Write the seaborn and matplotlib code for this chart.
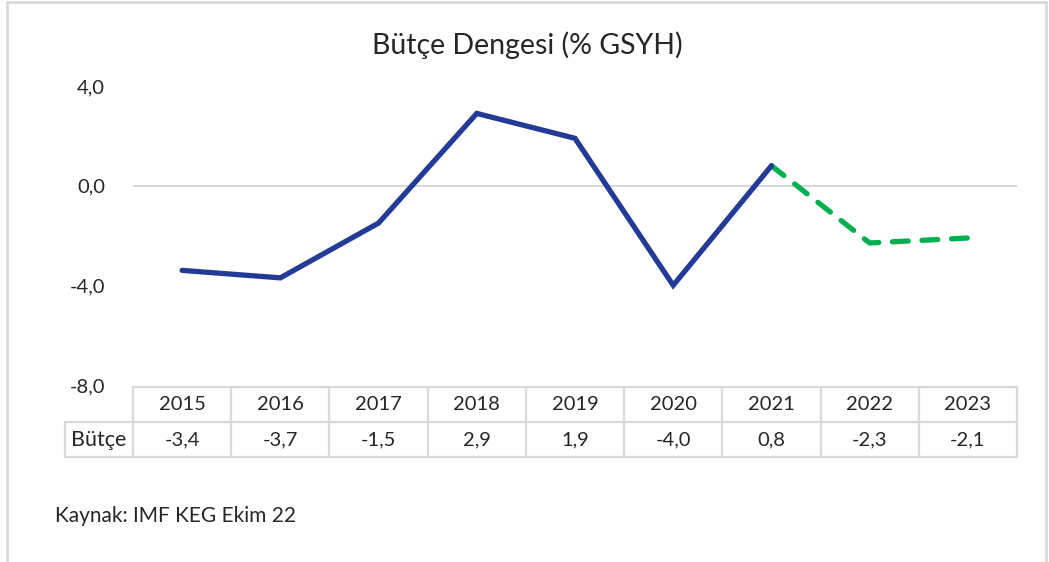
import matplotlib
matplotlib.use("Agg")
import matplotlib.pyplot as plt
import seaborn as sns
import pandas as pd
from matplotlib.lines import Line2D

years = ["2015", "2016", "2017", "2018", "2019", "2020", "2021", "2022", "2023"]
values = [-3.4, -3.7, -1.5, 2.9, 1.9, -4.0, 0.8, -2.3, -2.1]
value_labels = ["-3,4", "-3,7", "-1,5", "2,9", "1,9", "-4,0", "0,8", "-2,3", "-2,1"]
row_label = "Bütçe"
title = "Bütçe Dengesi (% GSYH)"
source = "Kaynak: IMF KEG Ekim 22"
yticks = [4, 0, -4, -8]
ytick_labels = ["4,0", "0,0", "-4,0", "-8,0"]
n_actual = 7  # 2015-2021 actual, 2021-2023 projection

sns.set_theme(style="white")
plt.rcParams['font.family'] = ['Lato', 'DejaVu Sans']

W, H = 1049, 562
fig = plt.figure(figsize=(W / 100, H / 100), dpi=100)
fig.patch.set_facecolor("white")

def fx(px):
    return px / W

def fy(py):
    return 1 - py / H

# main axes
ax_l, ax_r, ax_t, ax_b = 133, 1017, 86, 385
ax = fig.add_axes([fx(ax_l), fy(ax_b), fx(ax_r - ax_l), (ax_b - ax_t) / H])

df = pd.DataFrame({"x": list(range(len(years))), "v": values})
solid = df.iloc[:n_actual]
dashed = df.iloc[n_actual - 1:]

ax.axhline(0, color="#D9D9D9", lw=1.5, zorder=1)
sns.lineplot(data=solid, x="x", y="v", ax=ax, color="#233A96", lw=3.8,
             solid_capstyle="round", solid_joinstyle="miter", zorder=3)
sns.lineplot(data=dashed, x="x", y="v", ax=ax, color="#00B050", lw=3.8,
             zorder=2)
ax.lines[-1].set_dashes([3.0, 2.6])
ax.lines[-1].set_dash_capstyle("round")

ax.set_xlim(-0.5, len(years) - 0.5)
ax.set_ylim(-8, 4)
ax.set_yticks(yticks)
ax.set_yticklabels(ytick_labels)
ax.set_xticks([])
ax.set_xlabel("")
ax.set_ylabel("")
ax.tick_params(axis="y", length=0, pad=20, labelsize=14.5, labelcolor="#262626")
for s in ax.spines.values():
    s.set_visible(False)

# data table
t_l, t_t, t_b = 65, 387, 457
tax = fig.add_axes([fx(t_l), fy(t_b), fx(ax_r - t_l), (t_b - t_t) / H])
unit = (ax_r - ax_l) / len(years)
left_x = -0.5 - (ax_l - t_l) / unit
tax.set_xlim(left_x, len(years) - 0.5)
tax.set_ylim(0, 2)
tax.axis("off")
gc = "#D9D9D9"
lw = 1.6
tax.add_line(Line2D([-0.5, len(years) - 0.5], [2, 2], color=gc, lw=lw, clip_on=False))
tax.add_line(Line2D([left_x, len(years) - 0.5], [1, 1], color=gc, lw=lw, clip_on=False))
tax.add_line(Line2D([left_x, len(years) - 0.5], [0, 0], color=gc, lw=lw, clip_on=False))
tax.add_line(Line2D([left_x, left_x], [0, 1], color=gc, lw=lw, clip_on=False))
for k in range(len(years) + 1):
    tax.add_line(Line2D([k - 0.5, k - 0.5], [0, 2], color=gc, lw=lw, clip_on=False))
for i, (yr, lab) in enumerate(zip(years, value_labels)):
    tax.text(i, 1.5, yr, ha="center", va="center", fontsize=14.5, color="#262626")
    tax.text(i, 0.5, lab, ha="center", va="center", fontsize=14.5, color="#262626")
tax.text((left_x - 0.5) / 2, 0.5, row_label, ha="center", va="center",
         fontsize=15.5, color="#262626")

# title and source
fig.text(fx(527), fy(45), title, ha="center", va="center", fontsize=20.5, color="#262626")
fig.text(fx(55), fy(516), source, ha="left", va="center", fontsize=15, color="#262626")

# outer frame
fc = "#D9D9D9"
fig.add_artist(Line2D([fx(7), fx(7)], [fy(2), 0], transform=fig.transFigure, color=fc, lw=2))
fig.add_artist(Line2D([fx(1046), fx(1046)], [fy(2), 0], transform=fig.transFigure, color=fc, lw=2))
fig.add_artist(Line2D([fx(7), fx(1046)], [fy(2), fy(2)], transform=fig.transFigure, color=fc, lw=2))

fig.savefig("out.png", dpi=100, facecolor="white")
